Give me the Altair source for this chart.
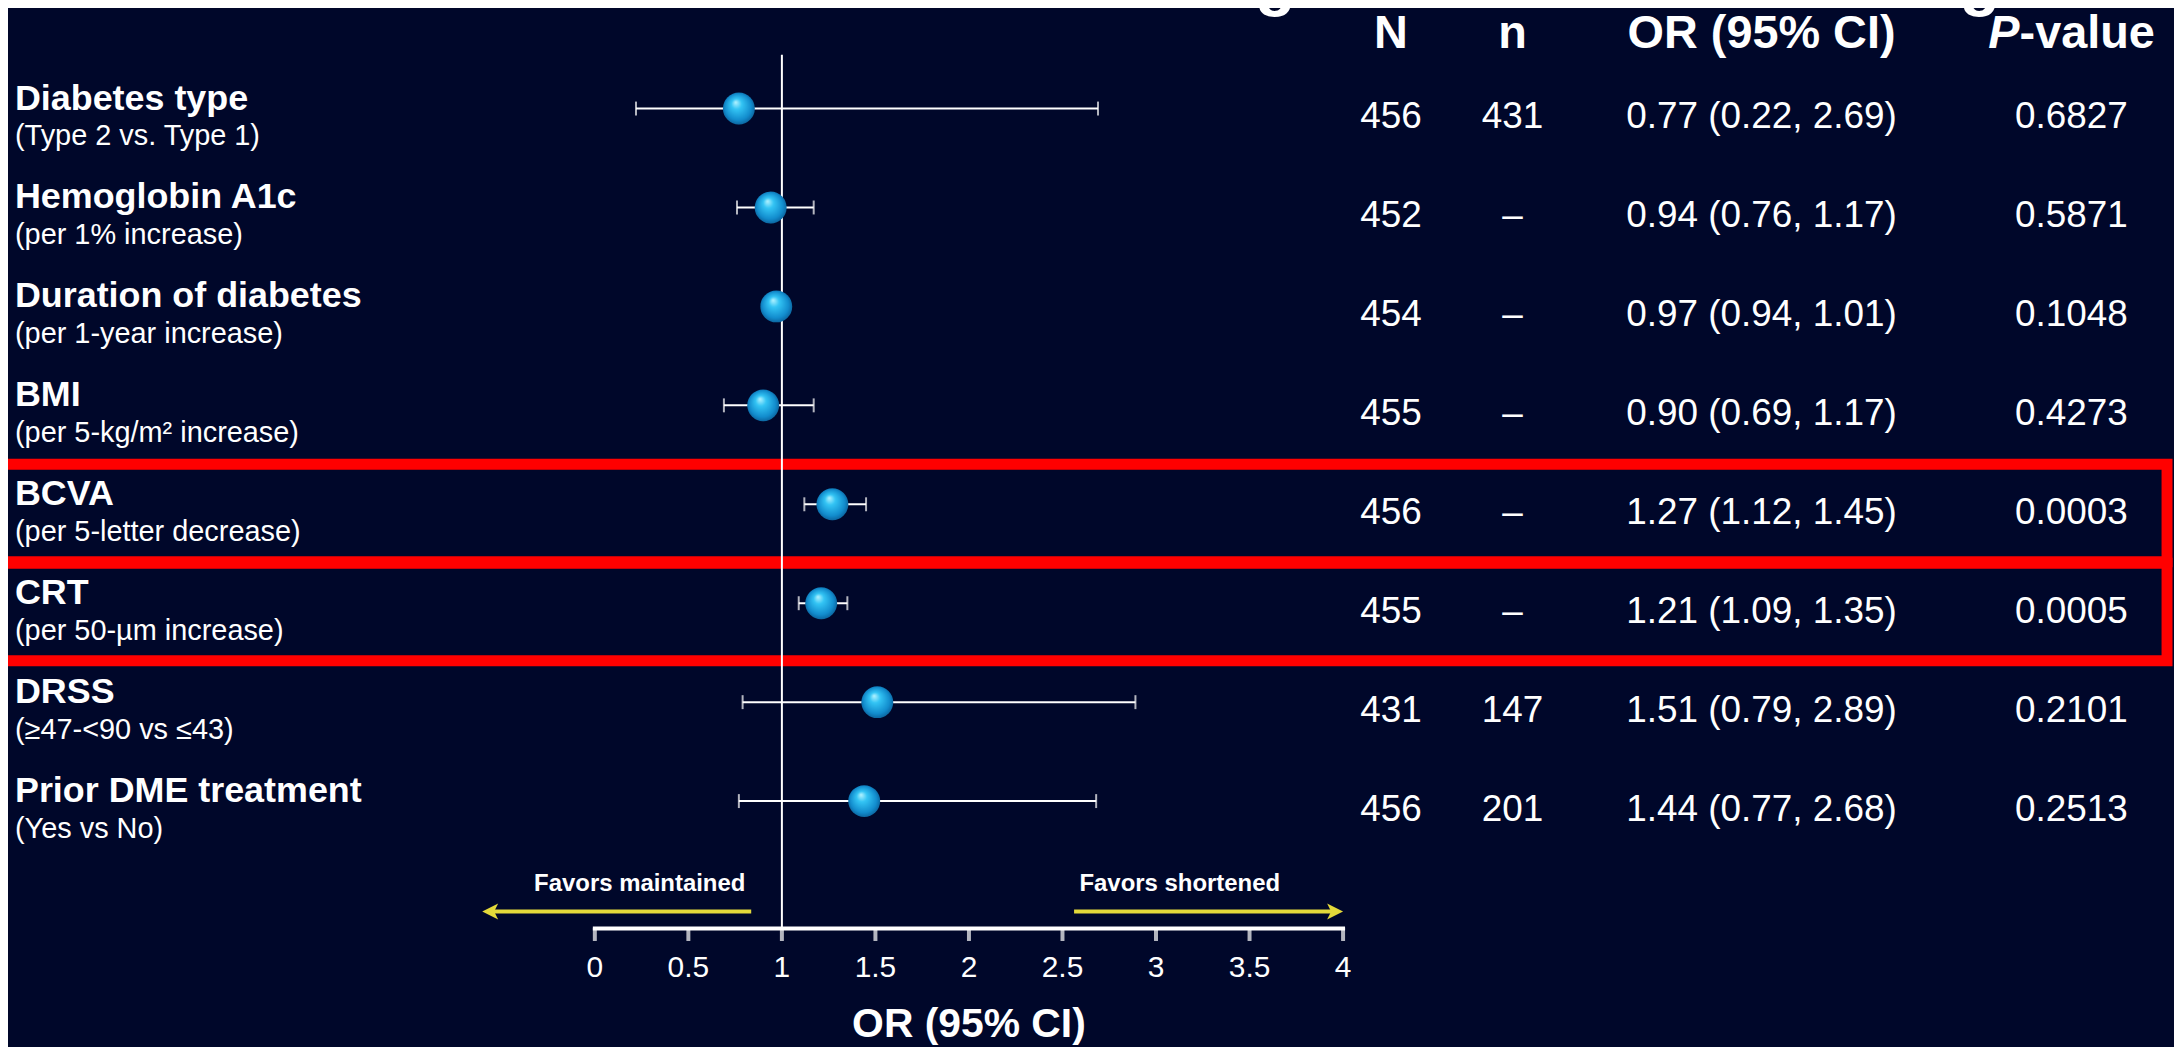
import altair as alt
import pandas as pd

# ---------------- data ----------------
labels = ["Diabetes type", "Hemoglobin A1c", "Duration of diabetes", "BMI",
          "BCVA", "CRT", "DRSS", "Prior DME treatment"]
sublabels = ["(Type 2 vs. Type 1)", "(per 1% increase)", "(per 1-year increase)",
             "(per 5-kg/m\u00b2 increase)", "(per 5-letter decrease)",
             "(per 50-\u00b5m increase)", "(\u226547-<90 vs \u226443)", "(Yes vs No)"]
N_total = [456, 452, 454, 455, 456, 455, 431, 456]
n_events = ["431", "\u2013", "\u2013", "\u2013", "\u2013", "\u2013", "147", "201"]
odds_ratio = [0.77, 0.94, 0.97, 0.90, 1.27, 1.21, 1.51, 1.44]
ci_low = [0.22, 0.76, 0.94, 0.69, 1.12, 1.09, 0.79, 0.77]
ci_high = [2.69, 1.17, 1.01, 1.17, 1.45, 1.35, 2.89, 2.68]
p_values = ["0.6827", "0.5871", "0.1048", "0.4273", "0.0003", "0.0005", "0.2101", "0.2513"]
highlighted = ["BCVA", "CRT"]
x_ticks = [0, 0.5, 1, 1.5, 2, 2.5, 3, 3.5, 4]
x_title = "OR (95% CI)"
favors_labels = ["Favors maintained", "Favors shortened"]
favors_center = [0.24, 3.127]
arrow_tail = [0.836, 2.562]
arrow_tip = [-0.602, 4.0]
null_value = 1

# ---------------- layout ----------------
W, H = 2174, 1039
BG = "#00072A"
FONT = "Liberation Sans"
X0_PX, X_UNIT_PX = 589, 187.75     # pixel of OR = 0, pixels per OR unit
ROW0_PX, ROW_PX = 106, 99.3        # pixel of first row centre, row pitch


def row_of(px):
    return (px - ROW0_PX) / ROW_PX


AXIS_ROW = row_of(922)
HEADER_ROW = row_of(38)
REF_TOP_ROW = row_of(45)
FAVORS_ROW = row_of(884)
ARROW_ROW = row_of(905)

COL_N, COL_n, COL_OR, COL_P = 1388, 1510, 1760, 2071
LABEL_X = 7

xs = alt.Scale(domain=[-X0_PX / X_UNIT_PX, (W - X0_PX) / X_UNIT_PX], nice=False, zero=False)
ys = alt.Scale(domain=[-ROW0_PX / ROW_PX, (H - ROW0_PX) / ROW_PX], nice=False, zero=False,
               reverse=True)


def X(field):
    return alt.X(field, type="quantitative", scale=xs, axis=None)


def Y(field):
    return alt.Y(field, type="quantitative", scale=ys, axis=None)


rows = pd.DataFrame({
    "row": list(range(len(labels))), "label": labels, "sub": sublabels,
    "N": [str(v) for v in N_total], "n": n_events, "or": odds_ratio,
    "lo": ci_low, "hi": ci_high, "p": p_values,
})
rows["or_text"] = [f"{o:.2f} ({l:.2f}, {h:.2f})" for o, l, h in zip(odds_ratio, ci_low, ci_high)]

caps = pd.DataFrame({"row": list(rows["row"]) * 2, "x": ci_low + ci_high})
boxes = rows[rows["label"].isin(highlighted)][["row"]]

white = "white"

# ---------------- x axis drawn from the tick list ----------------
ticks = pd.DataFrame({"x": x_ticks, "t": [f"{v:g}" for v in x_ticks],
                      "row": [AXIS_ROW] * len(x_ticks)})
axis_line = alt.Chart(pd.DataFrame({"x": [x_ticks[0]], "x2": [x_ticks[-1]], "row": [AXIS_ROW]})).mark_rule(
    color=white, strokeWidth=4, strokeCap="square"
).encode(x=X("x"), x2=alt.X2("x2"), y=Y("row"))
tick_marks = alt.Chart(ticks).mark_tick(orient="vertical", color=white, size=13, thickness=4,
                                        yOffset=6).encode(x=X("x"), y=Y("row"))
tick_labels = alt.Chart(ticks).mark_text(baseline="alphabetic", align="center", dy=49, font=FONT,
                                         fontSize=30, color=white).encode(
    x=X("x"), y=Y("row"), text="t:N")
axis_title = alt.Chart(pd.DataFrame({"x": [(x_ticks[0] + x_ticks[-1]) / 2], "row": [AXIS_ROW],
                                     "t": [x_title]})).mark_text(
    baseline="alphabetic", align="center", dy=109, font=FONT, fontSize=41, fontWeight="bold",
    color=white).encode(x=X("x"), y=Y("row"), text="t:N")

box_layer = alt.Chart(boxes).transform_calculate(
    top="datum.row - 0.475", bot="datum.row + 0.51"
).mark_rect(fillOpacity=0, stroke="#FF0000", strokeWidth=11).encode(
    x=alt.value(-40), x2=alt.value(2167), y=Y("top:Q"), y2=alt.Y2("bot:Q")
)

ref_line = alt.Chart(pd.DataFrame({"x": [null_value], "top": [REF_TOP_ROW], "bot": [AXIS_ROW]})).mark_rule(
    color=white, strokeWidth=2
).encode(x=X("x"), y=Y("top"), y2=alt.Y2("bot"))

ci_layer = alt.Chart(rows).mark_rule(color=white, strokeWidth=2, yOffset=-7).encode(
    x=X("lo"), x2=alt.X2("hi"), y=Y("row")
)
cap_layer = alt.Chart(caps).mark_tick(orient="vertical", color=white, size=14, thickness=2,
                                      yOffset=-7).encode(x=X("x"), y=Y("row"))

sphere = {"gradient": "radial", "x1": 0.4, "y1": 0.3, "r1": 0.0, "x2": 0.5, "y2": 0.5, "r2": 0.55,
          "stops": [{"offset": 0, "color": "#B5F3FF"}, {"offset": 0.3, "color": "#33C4F4"},
                    {"offset": 0.75, "color": "#128CCD"}, {"offset": 1, "color": "#0A5A92"}]}
point_layer = alt.Chart(rows).mark_circle(size=1024, fill=sphere, opacity=1, yOffset=-7).encode(
    x=X("or"), y=Y("row")
)

title_layer = alt.Chart(rows).mark_text(align="left", baseline="alphabetic", dy=-6, font=FONT,
                                        fontSize=36, fontWeight="bold", color=white).encode(
    x=alt.value(LABEL_X), y=Y("row"), text="label:N")
sub_layer = alt.Chart(rows).mark_text(align="left", baseline="alphabetic", dy=30, font=FONT,
                                      fontSize=29, color=white).encode(
    x=alt.value(LABEL_X), y=Y("row"), text="sub:N")

table_layers = []
for field, col in [("N", COL_N), ("n", COL_n), ("or_text", COL_OR), ("p", COL_P)]:
    table_layers.append(
        alt.Chart(rows).mark_text(align="center", baseline="alphabetic", dy=13, font=FONT,
                                  fontSize=37, color=white).encode(
            x=alt.value(col), y=Y("row"), text=f"{field}:N"))

hdr = pd.DataFrame({"row": [HEADER_ROW]})
header_layers = []
for txt, col in [("N", COL_N), ("n", COL_n), ("OR (95% CI)", COL_OR)]:
    header_layers.append(
        alt.Chart(hdr).mark_text(align="center", baseline="alphabetic", font=FONT, fontSize=47,
                                 fontWeight="bold", color=white, text=txt).encode(
            x=alt.value(col), y=Y("row")))
header_layers.append(
    alt.Chart(hdr).mark_text(align="right", baseline="alphabetic", font=FONT, fontSize=47,
                             fontWeight="bold", fontStyle="italic", color=white, text="P").encode(
        x=alt.value(2019), y=Y("row")))
header_layers.append(
    alt.Chart(hdr).mark_text(align="left", baseline="alphabetic", font=FONT, fontSize=47,
                             fontWeight="bold", color=white, text="-value").encode(
        x=alt.value(2019), y=Y("row")))

# clipped title remnants at the very top
frag_layers = [
    alt.Chart(hdr).mark_text(align="center", baseline="alphabetic", font=FONT, fontSize=66,
                             fontWeight="bold", color=white, text="g").encode(
        x=alt.value(gx), y=alt.value(-7)) for gx in (1272, 1979)
]

favors = pd.DataFrame({"x": favors_center, "t": favors_labels, "row": [FAVORS_ROW] * 2})
favors_layer = alt.Chart(favors).mark_text(align="center", baseline="alphabetic", font=FONT,
                                           fontSize=24, fontWeight="bold", color=white).encode(
    x=X("x"), y=Y("row"), text="t:N")

YELLOW = "#E3D93A"
arrows = pd.DataFrame({"tail": arrow_tail, "tip": arrow_tip, "row": [ARROW_ROW] * 2})
arrows["end"] = [tp + (0.06 if tp < tl else -0.06) for tl, tp in zip(arrow_tail, arrow_tip)]
arrow_lines = alt.Chart(arrows).mark_rule(color=YELLOW, strokeWidth=4).encode(
    x=X("tail"), x2=alt.X2("end"), y=Y("row"))
head_left = alt.Chart(arrows.iloc[[0]]).mark_point(
    shape="M-1,0L1,-1L0.5,0L1,1Z", size=256, filled=True, fill=YELLOW, opacity=1, strokeWidth=0,
    xOffset=8).encode(x=X("tip"), y=Y("row"))
head_right = alt.Chart(arrows.iloc[[1]]).mark_point(
    shape="M1,0L-1,-1L-0.5,0L-1,1Z", size=256, filled=True, fill=YELLOW, opacity=1, strokeWidth=0,
    xOffset=-8).encode(x=X("tip"), y=Y("row"))

chart = alt.layer(
    box_layer, ref_line, axis_line, tick_marks, tick_labels, axis_title, ci_layer, cap_layer,
    point_layer, title_layer, sub_layer, *table_layers, *header_layers, *frag_layers,
    favors_layer, arrow_lines, head_left, head_right,
).properties(
    width=W, height=H, background=BG, padding=0,
    autosize=alt.AutoSizeParams(type="none"),
).configure_view(stroke=None)

chart.save("out.html", embed_options={"renderer": "svg", "actions": False})
